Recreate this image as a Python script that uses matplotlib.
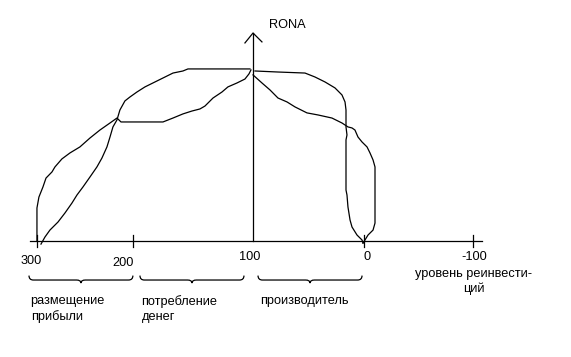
#!/usr/bin/env python3
"""Hand-drawn RONA vs reinvestment level sketch (three stages)."""

import matplotlib

matplotlib.use("Agg")
import matplotlib.pyplot as plt
from matplotlib.path import Path
from matplotlib.patches import PathPatch

plt.rcParams.update({"font.family": ["Liberation Sans", "DejaVu Sans"], "font.size": 9.2})

# x = reinvestment level (axis runs from 300 on the left to -100 on the right)
# y = RONA, arbitrary units (upper plateau ~ 100)
TICK_AT = [300, 212, 102, 0, -100]      # hand-drawn ticks are not evenly spaced
TICK_LABELS = ["300", "200", "100", "0", "-100"]
Y_AXIS_AT = 101.8
X_AXIS_SPAN = (306.4, -108.3)
Y_AXIS_TOP = 121.6

# outer-left curve: up from 300, crosses, flat step, climbs to the RONA axis
outer_x = [300, 300, 298.2, 294.5, 291.7, 286.2, 283.5, 277.1, 269.7, 260.6, 251.4, 242.2,
           233.0, 226.6, 222.9, 184.4, 175.2, 166.1, 157.8, 150.5, 145.9, 138.5, 130.3,
           124.8, 116.5, 109.2, 105.5, 103.7]
outer_y = [0, 19.3, 25.7, 31.6, 36.8, 40.4, 43.3, 48.0, 51.5, 55.0, 60.2, 64.9,
           69.0, 71.9, 69.6, 69.6, 71.9, 74.3, 76.0, 77.2, 78.9, 83.6, 87.1,
           90.1, 92.4, 94.7, 97.7, 100.0]

# inner-left curve: S-shape up to the upper plateau
inner_x = [296.3, 292.7, 288.1, 280.7, 274.3, 267.9, 263.3, 257.8, 251.4, 245.0, 240.4, 235.8,
           233.0, 230.3, 226.6, 223.9, 219.3, 214.7, 208.3, 200.9, 193.6, 184.4, 175.2,
           166.1, 161.5, 104.6]
inner_y = [-1.8, 2.3, 6.4, 11.1, 16.4, 22.2, 26.9, 31.6, 37.4, 43.3, 48.5, 55.0,
           60.8, 66.7, 70.8, 76.6, 81.9, 84.2, 87.1, 90.1, 92.4, 95.3, 98.2,
           99.4, 100.6, 100.6]

# right side, upper branch: plateau then down the left side of the loop to 0
upper_right_x = [100.0, 78.9, 54.1, 45.0, 35.8, 26.6, 20.2, 17.4, 16.5, 16.5, 15.6, 16.5,
                 16.5, 15.6, 14.7, 12.8, 11.0, 6.4, 1.8, 0.9]
upper_right_y = [99.4, 98.8, 98.2, 95.9, 93.0, 89.5, 85.4, 81.3, 76.6, 66.7, 62.0, 59.1,
                 29.8, 26.9, 19.9, 12.3, 8.2, 3.5, 0.6, -1.2]

# right side, lower branch: falls from the axis, right side of the loop to 0
lower_right_x = [101.8, 93.6, 86.2, 78.9, 70.6, 63.3, 52.3, 42.2, 29.4, 20.2, 14.7, 11.0,
                 8.3, 5.5, 1.8, -2.8, -5.5, -8.3, -10.1, -10.1, -8.3, -3.7, -0.9, 0.9]
lower_right_y = [97.1, 92.4, 88.3, 83.6, 81.3, 78.4, 74.9, 73.7, 71.9, 69.0, 66.7, 66.1,
                 64.9, 60.8, 57.9, 55.0, 51.5, 47.4, 43.3, 10.5, 6.4, 3.5, 0.6, -1.2]

GROUP_LABELS = ["размещение\nприбыли", "потребление\nденег", "производитель"]
GROUP_SPANS = [(307.3, 212.0), (205.5, 110.1), (97.2, 1.8)]

X_TITLE = "уровень реинвести-\nций"
Y_TITLE = "RONA"

LW = 0.9
INK = "black"


def draw_brace(ax, x0, x1, y, hook=2.6, run=4.0, dip=1.8):
    """Under-brace: ends curl up, small point in the middle."""
    xm = (x0 + x1) / 2
    step = -1 if x1 < x0 else 1
    verts = [
        (x0, y + hook), (x0, y), (x0 + step * run, y),
        (xm - step * run, y), (xm, y), (xm, y - dip),
        (xm, y), (xm + step * run, y),
        (x1 - step * run, y), (x1, y), (x1, y + hook),
    ]
    codes = [Path.MOVETO, Path.CURVE3, Path.CURVE3,
             Path.LINETO, Path.CURVE3, Path.CURVE3,
             Path.CURVE3, Path.CURVE3,
             Path.LINETO, Path.CURVE3, Path.CURVE3]
    ax.add_patch(PathPatch(Path(verts, codes), facecolor="none", edgecolor=INK, lw=LW))


def main():
    fig = plt.figure(figsize=(5.71, 3.57), dpi=100, facecolor="white")
    ax = fig.add_axes([0, 0, 1, 1])
    ax.set_xlim(333.9, -189.9)
    ax.set_ylim(-67.8, 140.9)
    ax.axis("off")

    # axes of the sketch
    ax.plot(X_AXIS_SPAN, [0, 0], color=INK, lw=LW)
    ax.plot([Y_AXIS_AT, Y_AXIS_AT], [0, Y_AXIS_TOP], color=INK, lw=LW)
    ax.plot([Y_AXIS_AT + 7.4, Y_AXIS_AT, Y_AXIS_AT - 8.2],
            [Y_AXIS_TOP - 5.8, Y_AXIS_TOP, Y_AXIS_TOP - 5.2], color=INK, lw=LW)
    for x in TICK_AT:
        if x != TICK_AT[2]:
            ax.plot([x, x], [-3.3, 3.3], color=INK, lw=LW)

    nudges = [(5.5, -11.4), (9.0, -12.6), (2.8, -9.4), (-2.8, -9.4), (-0.9, -9.4)]
    for x, lab, (dx, y) in zip(TICK_AT, TICK_LABELS, nudges):
        ax.text(x + dx, y, lab, ha="center", va="center")

    ax.text(-100.5, -23.6, X_TITLE, ha="center", va="center", linespacing=1.3)
    ax.text(87.2, 126.3, Y_TITLE, ha="left", va="center")

    # curves
    for xs, ys in [(outer_x, outer_y), (inner_x, inner_y),
                   (upper_right_x, upper_right_y), (lower_right_x, lower_right_y)]:
        ax.plot(xs, ys, color=INK, lw=LW, solid_joinstyle="round")

    # stage braces and names
    for (x0, x1), lab in zip(GROUP_SPANS, GROUP_LABELS):
        draw_brace(ax, x0, x1, -22.8)
        ax.text(x0 - 1.5, -31.6, lab, ha="left", va="top", linespacing=1.3)

    fig.savefig("out.png", dpi=100, facecolor="white")
    plt.close(fig)


if __name__ == "__main__":
    main()
